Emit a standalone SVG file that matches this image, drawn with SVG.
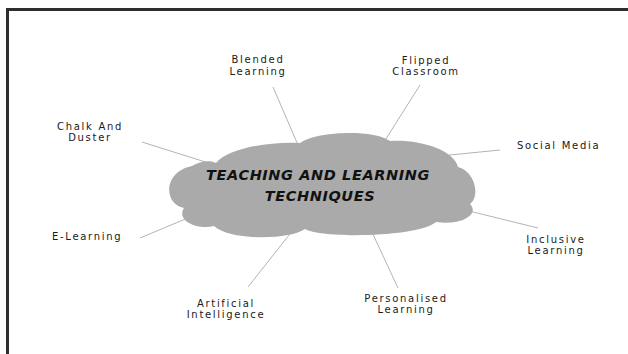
<svg xmlns="http://www.w3.org/2000/svg" width="628" height="354" viewBox="0 0 628 354">
<style>
.frame{fill:none;stroke:#2e2e2e;stroke-width:3}
.conn line{stroke:#b4b4b4;stroke-width:1}
.lbl{font-family:"DejaVu Sans",sans-serif;font-size:10px;letter-spacing:1.7px;fill:#1a1a1a}
.mid{text-anchor:middle}
.cloud{fill:#aaaaaa}
.title{font-family:"DejaVu Sans",sans-serif;font-size:14.5px;font-weight:bold;font-style:italic;letter-spacing:0.6px;fill:#111;text-anchor:middle}
</style>
<rect width="628" height="354" fill="#ffffff"/>
<path class="frame" d="M7.5,354 V9.5 H628"/>
<g id="connectors" class="conn">
<line x1="273" y1="87" x2="298" y2="145"/>
<line x1="420" y1="85" x2="384" y2="142"/>
<line x1="142" y1="142" x2="215" y2="165"/>
<line x1="500" y1="150" x2="440" y2="156"/>
<line x1="140" y1="238" x2="214" y2="207"/>
<line x1="538" y1="228" x2="465" y2="210"/>
<line x1="248" y1="287" x2="293" y2="230"/>
<line x1="398" y1="288" x2="371" y2="230"/>
</g>
<g id="center">
<path class="cloud" d="M184,208 C164,205 162,172 192,166 C200,161 210,160 216,163 C228,148 272,141 300,143 C316,131 374,129 390,141 C420,139 454,150 458,167 C476,172 480,197 470,204 C480,214 462,226 436,222 C420,237 322,239 305,229 C290,240 230,241 214,226 C196,230 176,220 184,208 Z"/>
<text class="title" x="318" y="180">TEACHING AND LEARNING</text>
<text class="title" x="320" y="201">TECHNIQUES</text>
</g>
<g id="blended"><text class="lbl mid" x="258" y="63">Blended</text><text class="lbl mid" x="258" y="75">Learning</text></g>
<g id="flipped"><text class="lbl mid" x="426" y="64">Flipped</text><text class="lbl mid" x="426" y="75">Classroom</text></g>
<g id="chalk"><text class="lbl mid" x="90" y="130">Chalk And</text><text class="lbl mid" x="90" y="141">Duster</text></g>
<g id="social"><text class="lbl" x="517" y="149">Social Media</text></g>
<g id="elearning"><text class="lbl" x="52" y="240">E-Learning</text></g>
<g id="inclusive"><text class="lbl mid" x="556" y="243">Inclusive</text><text class="lbl mid" x="556" y="254">Learning</text></g>
<g id="ai"><text class="lbl mid" x="226" y="307">Artificial</text><text class="lbl mid" x="226" y="318">Intelligence</text></g>
<g id="personalised"><text class="lbl mid" x="406" y="302">Personalised</text><text class="lbl mid" x="406" y="313">Learning</text></g>
</svg>
